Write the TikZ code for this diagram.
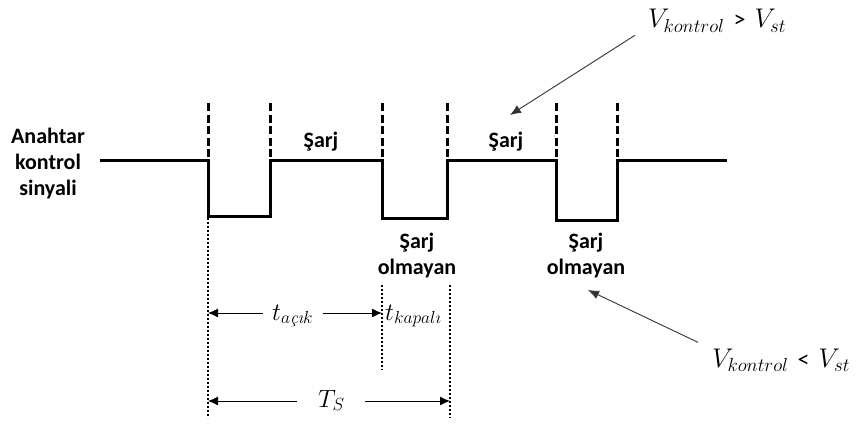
\RequirePackage{fix-cm}
\documentclass[tikz,border=0pt]{standalone}
\usepackage{amsmath}
\usepackage{fontspec}
\setmainfont{Carlito}
\newfontfamily\serifit{Latin Modern Roman}
\usetikzlibrary{arrows.meta}
\newcommand{\relsym}[1]{\text{\hspace{9pt}\fontsize{24}{24}\selectfont #1\hspace{9pt}}}
\begin{document}
\begin{tikzpicture}[x=1pt,y=-1pt,
  signal/.style={line width=3pt,line join=miter},
  edge/.style={line width=3pt,dash pattern=on 8pt off 3.5pt},
  guide/.style={line width=2pt,dash pattern=on 2pt off 2pt},
  dim/.style={line width=1pt,-{Latex[length=10pt,width=9pt]}},
  callout/.style={line width=0.9pt,draw=black!80,-{Latex[length=11pt,width=9pt]}},
  lbl/.style={font=\bfseries\fontsize{22}{26}\selectfont,align=center,inner sep=0pt,anchor=base},
  eq/.style={font=\fontsize{25}{30}\selectfont,inner sep=0pt,anchor=base west},
  cond/.style={font=\fontsize{27}{32}\selectfont,inner sep=0pt,anchor=base west}]
\useasboundingbox (0,0) rectangle (862,428);

% switching waveform
\draw[signal] (100,160) -- (208,160) -- (208,216) -- (270,216) -- (270,160)
  -- (382,160) -- (382,218) -- (447,218) -- (447,160)
  -- (556,160) -- (556,220) -- (617,220) -- (617,160) -- (727,160);

% dashed switching edges
\foreach \xx in {208,270,382,447,556,617}
  \draw[edge] (\xx,103) -- (\xx,160);

% dotted guides for the timing marks
\coordinate (g1t) at (208,218); \coordinate (g1b) at (208,418);
\coordinate (g2t) at (382,285); \coordinate (g2b) at (382,370);
\coordinate (g3t) at (450,285); \coordinate (g3b) at (450,418);
\draw[guide] (g1t) -- (g1b);
\draw[guide] (g2t) -- (g2b);
\draw[guide] (g3t) -- (g3b);

% labels (base anchor sits on the last line)
\node[lbl] (sig) at (48,195) {Anahtar\\kontrol\\sinyali};
\node[lbl] (s1) at (321,147) {Şarj};
\node[lbl] (s2) at (506,147) {Şarj};
\node[lbl] (n1) at (417,274) {Şarj\\olmayan};
\node[lbl] (n2) at (586,274) {Şarj\\olmayan};

% on / off durations
\node[eq] (ton) at (272,320) {$t_{a\text{\serifit\itshape çı}k}$};
\node[eq] (toff) at (385,320) {$t_{kapal\imath}$};
\coordinate (a1) at (208,313); \coordinate (a2) at (382,313);
\draw[dim] (ton.west |- a1) ++(-9,0) -- (a1);
\draw[dim] (ton.east |- a2) ++(10,0) -- (a2);

% switching period
\node[eq] (ts) at (318,407) {$T_S$};
\coordinate (p1) at (208,401); \coordinate (p2) at (450,401);
\draw[dim] (ts.west |- p1) ++(-21,0) -- (p1);
\draw[dim] (ts.east |- p2) ++(20,0) -- (p2);

% control voltage conditions
\node[cond] (vgt) at (648,28) {$V_{kontrol}\relsym{>}V_{st}$};
\node[cond] (vlt) at (712,367) {$V_{kontrol}\relsym{<}V_{st}$};
\coordinate (c1) at (510,115);
\coordinate (c2) at (588,290);
\draw[callout] (vgt.south west) ++(-13,3) -- (c1);
\draw[callout] (vlt.north west) ++(-14,-6) -- (c2);
\end{tikzpicture}
\end{document}
